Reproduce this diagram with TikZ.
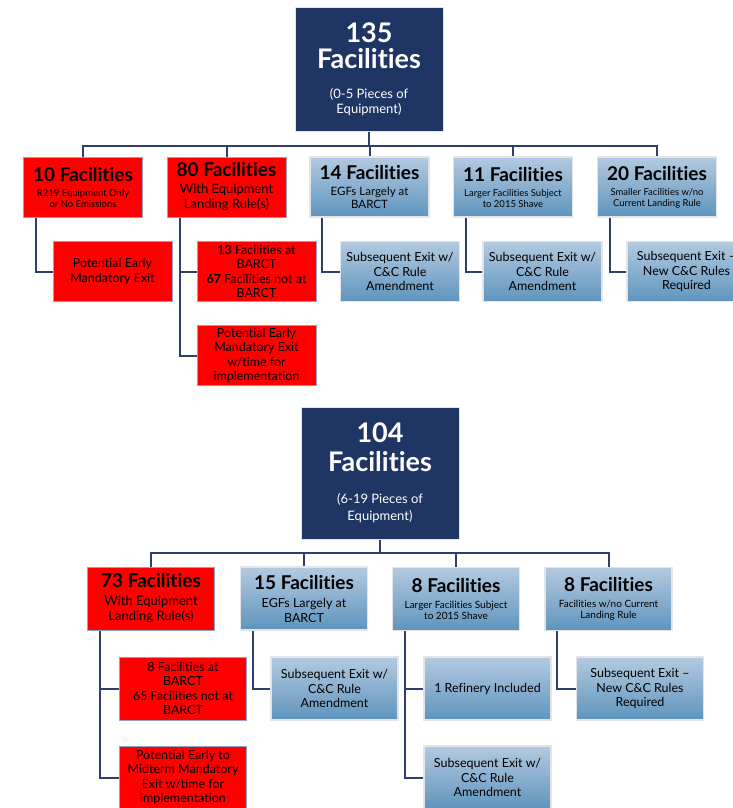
\documentclass[tikz,border=0pt]{standalone}
\usepackage{fontspec}
\setmainfont{Lato}[Ligatures={NoCommon}]

\definecolor{navy}{HTML}{1F3564}
\definecolor{redline}{HTML}{8EA4C2}
\definecolor{bluetop}{HTML}{B3CAE0}
\definecolor{bluebot}{HTML}{5F94BD}
\definecolor{linecol}{HTML}{2E3F6B}
\definecolor{rim}{HTML}{E2E4E8}

\newcommand\bighd{\fontsize{27}{30}\selectfont\bfseries}
\newcommand\hd{\fontsize{19}{21}\selectfont\bfseries}
\newcommand\rsub{\fontsize{13}{15}\selectfont}
\newcommand\sm{\fontsize{9.5}{11}\selectfont}
\newcommand\mdt{\fontsize{12.5}{14.5}\selectfont}
\newcommand\egf{\fontsize{11.5}{13}\selectfont}
\newcommand\tnp{\fontsize{10}{11.5}\selectfont}

\tikzset{
  box/.style={rectangle, align=center, inner sep=2pt,
    minimum width=119pt, minimum height=60pt, font=\mdt},
  rootbox/.style={box, fill=navy, draw=rim, line width=1pt, text=white, font=\rsub},
  redbox/.style={box, fill=red, draw=redline, line width=1pt},
  bluebox/.style={box, top color=bluetop, bottom color=bluebot,
    draw=rim, line width=1.5pt},
  widebox/.style={minimum width=127pt, minimum height=63pt},
  link/.style={draw=linecol, line width=2pt},
}

\begin{document}
\begin{tikzpicture}[x=1pt,y=-1pt]
  \useasboundingbox (0,0) rectangle (733,808);

  % 0-5 pieces
  \node[rootbox, minimum width=148pt, minimum height=124pt] (r1) at (369,69.5)
    {{\bighd 135}\\[5pt]{\bighd Facilities}\\[15pt](0-5 Pieces of\\Equipment)};
  \node[redbox, font=\sm] (a1) at (83,187)
    {{\hd 10 Facilities}\\[4pt]R219 Equipment Only\\or No Emissions};
  \node[redbox, font=\rsub] (a2) at (226.5,187)
    {{\hd 80 Facilities}\\[2pt]With Equipment\\Landing Rule(s)};
  \node[bluebox, font=\egf] (a3) at (369.5,187)
    {{\hd 14 Facilities}\\[3pt]EGFs Largely at\\BARCT};
  \node[bluebox, font=\sm] (a4) at (513,187)
    {{\hd 11 Facilities}\\[4pt]Larger Facilities Subject\\to 2015 Shave};
  \node[bluebox, font=\sm] (a5) at (657,187)
    {{\hd 20 Facilities}\\[4pt]Smaller Facilities w/no\\Current Landing Rule};

  \node[redbox] (a1s) at (112.5,271.5) {Potential Early\\Mandatory Exit};
  \node[redbox] (a2s) at (256.5,271.5)
    {\textbf{13} Facilities at\\BARCT\\\textbf{67} Facilities not at\\BARCT};
  \node[redbox] (a2t) at (256.5,355.5)
    {Potential Early\\Mandatory Exit\\w/time for\\implementation};
  \node[bluebox] (a3s) at (400,271.5) {Subsequent Exit w/\\C\&C Rule\\Amendment};
  \node[bluebox] (a4s) at (542.5,271.5) {Subsequent Exit w/\\C\&C Rule\\Amendment};
  \node[bluebox] (a5s) at (686.5,271.5) {Subsequent Exit --\\New C\&C Rules\\Required};

  \coordinate (bus1) at (369,146);
  \draw[link] (r1.south) -- (bus1);
  \foreach \c in {a1,a2,a3,a4,a5}
    \draw[link] (bus1) -| (\c.north);
  \draw[link] ([xshift=13pt]a1.south west) |- (a1s.west);
  \draw[link] ([xshift=13pt]a2.south west) |- (a2s.west);
  \draw[link] ([xshift=13pt]a2.south west) |- (a2t.west);
  \draw[link] ([xshift=13pt]a3.south west) |- (a3s.west);
  \draw[link] ([xshift=13pt]a4.south west) |- (a4s.west);
  \draw[link] ([xshift=13pt]a5.south west) |- (a5s.west);

  % 6-19 pieces
  \node[rootbox, minimum width=158pt, minimum height=132pt] (r2) at (380,473)
    {{\bighd 104}\\[8pt]{\bighd Facilities}\\[17pt](6-19 Pieces of\\[2pt]Equipment)};
  \node[redbox, widebox, font=\rsub] (b1) at (151,598.5)
    {{\hd 73 Facilities}\\[3pt]With Equipment\\Landing Rule(s)};
  \node[bluebox, widebox] (b2) at (304,598.5)
    {{\hd 15 Facilities}\\[4pt]EGFs Largely at\\BARCT};
  \node[bluebox, widebox, font=\tnp] (b3) at (456,599)
    {{\hd 8 Facilities}\\[4pt]Larger Facilities Subject\\to 2015 Shave};
  \node[bluebox, widebox, font=\tnp] (b4) at (608.5,599)
    {{\hd 8 Facilities}\\[4pt]Facilities w/no Current\\Landing Rule};

  \node[redbox, widebox] (b1s) at (183,688.5)
    {8 Facilities at\\BARCT\\65 Facilities not at\\BARCT};
  \node[redbox, widebox] (b1t) at (183,777.5)
    {Potential Early to\\Midterm Mandatory\\Exit w/time for\\implementation};
  \node[bluebox, widebox] (b2s) at (334.5,688.5) {Subsequent Exit w/\\C\&C Rule\\Amendment};
  \node[bluebox, widebox] (b3s) at (487.5,688.5) {1 Refinery Included};
  \node[bluebox, widebox] (b3t) at (487.5,777.5) {Subsequent Exit w/\\C\&C Rule\\Amendment};
  \node[bluebox, widebox] (b4s) at (640,688.5) {Subsequent Exit --\\New C\&C Rules\\Required};

  \coordinate (bus2) at (380,553);
  \draw[link] (r2.south) -- (bus2);
  \foreach \c in {b1,b2,b3,b4}
    \draw[link] (bus2) -| (\c.north);
  \draw[link] ([xshift=13pt]b1.south west) |- (b1s.west);
  \draw[link] ([xshift=13pt]b1.south west) |- (b1t.west);
  \draw[link] ([xshift=13pt]b2.south west) |- (b2s.west);
  \draw[link] ([xshift=13pt]b3.south west) |- (b3s.west);
  \draw[link] ([xshift=13pt]b3.south west) |- (b3t.west);
  \draw[link] ([xshift=13pt]b4.south west) |- (b4s.west);
\end{tikzpicture}
\end{document}
